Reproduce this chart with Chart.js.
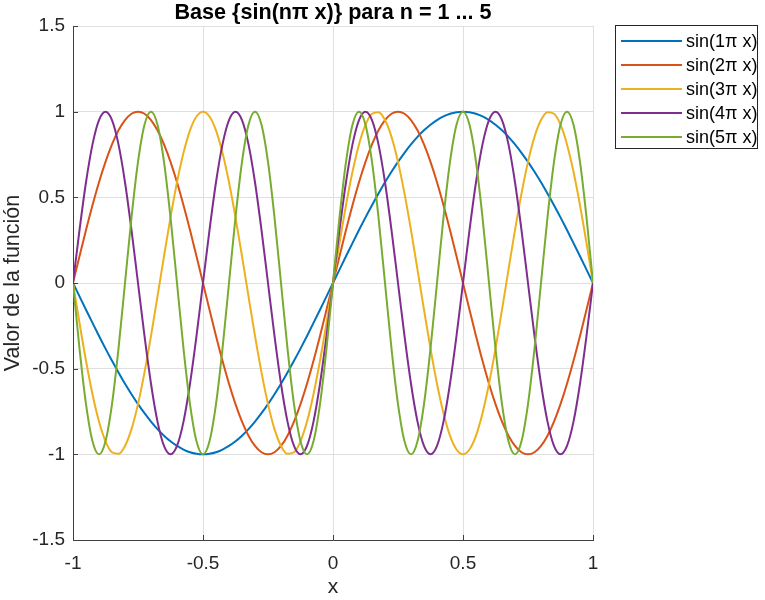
<!DOCTYPE html>
<html>
<head>
<meta charset="utf-8">
<script src="https://cdn.jsdelivr.net/npm/chart.js@4.4.1/dist/chart.umd.min.js"></script>
<style>
  html, body { margin: 0; padding: 0; background: #ffffff; }
  #c { display: block; }
</style>
</head>
<body>
<canvas id="c" width="765" height="600" style="width:765px;height:600px"></canvas>
<script>
const chartTitle = 'Base {sin(nπ x)} para n = 1 ... 5';
const xAxisTitle = 'x';
const yAxisTitle = 'Valor de la función';
const seriesLabels = ['sin(1π x)', 'sin(2π x)', 'sin(3π x)', 'sin(4π x)', 'sin(5π x)'];
const seriesColors = ['#0072BD', '#D95319', '#EDB120', '#7E2F8E', '#77AC30'];

const xs = [-1,-0.975,-0.95,-0.925,-0.9,-0.875,-0.85,-0.825,-0.8,-0.775,-0.75,-0.725,-0.7,-0.675,-0.65,-0.625,-0.6,-0.575,-0.55,-0.525,
  -0.5,-0.475,-0.45,-0.425,-0.4,-0.375,-0.35,-0.325,-0.3,-0.275,-0.25,-0.225,-0.2,-0.175,-0.15,-0.125,-0.1,-0.075,-0.05,-0.025,
  0,0.025,0.05,0.075,0.1,0.125,0.15,0.175,0.2,0.225,0.25,0.275,0.3,0.325,0.35,0.375,0.4,0.425,0.45,0.475,
  0.5,0.525,0.55,0.575,0.6,0.625,0.65,0.675,0.7,0.725,0.75,0.775,0.8,0.825,0.85,0.875,0.9,0.925,0.95,0.975,1];

const y1 = [0,-0.078,-0.156,-0.233,-0.309,-0.383,-0.454,-0.522,-0.588,-0.649,-0.707,-0.76,-0.809,-0.853,-0.891,-0.924,-0.951,-0.972,-0.988,-0.997,
  -1,-0.997,-0.988,-0.972,-0.951,-0.924,-0.891,-0.853,-0.809,-0.76,-0.707,-0.649,-0.588,-0.522,-0.454,-0.383,-0.309,-0.233,-0.156,-0.078,
  0,0.078,0.156,0.233,0.309,0.383,0.454,0.522,0.588,0.649,0.707,0.76,0.809,0.853,0.891,0.924,0.951,0.972,0.988,0.997,
  1,0.997,0.988,0.972,0.951,0.924,0.891,0.853,0.809,0.76,0.707,0.649,0.588,0.522,0.454,0.383,0.309,0.233,0.156,0.078,0];

const y2 = [0,0.156,0.309,0.454,0.588,0.707,0.809,0.891,0.951,0.988,1,0.988,0.951,0.891,0.809,0.707,0.588,0.454,0.309,0.156,
  0,-0.156,-0.309,-0.454,-0.588,-0.707,-0.809,-0.891,-0.951,-0.988,-1,-0.988,-0.951,-0.891,-0.809,-0.707,-0.588,-0.454,-0.309,-0.156,
  0,0.156,0.309,0.454,0.588,0.707,0.809,0.891,0.951,0.988,1,0.988,0.951,0.891,0.809,0.707,0.588,0.454,0.309,0.156,
  0,-0.156,-0.309,-0.454,-0.588,-0.707,-0.809,-0.891,-0.951,-0.988,-1,-0.988,-0.951,-0.891,-0.809,-0.707,-0.588,-0.454,-0.309,-0.156,0];

const y3 = [0,-0.233,-0.454,-0.649,-0.809,-0.924,-0.988,-0.997,-0.951,-0.853,-0.707,-0.522,-0.309,-0.078,0.156,0.383,0.588,0.76,0.891,0.972,
  1,0.972,0.891,0.76,0.588,0.383,0.156,-0.078,-0.309,-0.522,-0.707,-0.853,-0.951,-0.997,-0.988,-0.924,-0.809,-0.649,-0.454,-0.233,
  0,0.233,0.454,0.649,0.809,0.924,0.988,0.997,0.951,0.853,0.707,0.522,0.309,0.078,-0.156,-0.383,-0.588,-0.76,-0.891,-0.972,
  -1,-0.972,-0.891,-0.76,-0.588,-0.383,-0.156,0.078,0.309,0.522,0.707,0.853,0.951,0.997,0.988,0.924,0.809,0.649,0.454,0.233,0];

const y4 = [0,0.309,0.588,0.809,0.951,1,0.951,0.809,0.588,0.309,0,-0.309,-0.588,-0.809,-0.951,-1,-0.951,-0.809,-0.588,-0.309,
  0,0.309,0.588,0.809,0.951,1,0.951,0.809,0.588,0.309,0,-0.309,-0.588,-0.809,-0.951,-1,-0.951,-0.809,-0.588,-0.309,
  0,0.309,0.588,0.809,0.951,1,0.951,0.809,0.588,0.309,0,-0.309,-0.588,-0.809,-0.951,-1,-0.951,-0.809,-0.588,-0.309,
  0,0.309,0.588,0.809,0.951,1,0.951,0.809,0.588,0.309,0,-0.309,-0.588,-0.809,-0.951,-1,-0.951,-0.809,-0.588,-0.309,0];

const y5 = [0,-0.383,-0.707,-0.924,-1,-0.924,-0.707,-0.383,0,0.383,0.707,0.924,1,0.924,0.707,0.383,
  0,-0.383,-0.707,-0.924,-1,-0.924,-0.707,-0.383,0,0.383,0.707,0.924,1,0.924,0.707,0.383,
  0,-0.383,-0.707,-0.924,-1,-0.924,-0.707,-0.383,0,0.383,0.707,0.924,1,0.924,0.707,0.383,
  0,-0.383,-0.707,-0.924,-1,-0.924,-0.707,-0.383,0,0.383,0.707,0.924,1,0.924,0.707,0.383,
  0,-0.383,-0.707,-0.924,-1,-0.924,-0.707,-0.383,0,0.383,0.707,0.924,1,0.924,0.707,0.383,0];

const allSeries = [y1, y2, y3, y4, y5];
const xMin = -1, xMax = 1, xStep = 0.5;
const yMin = -1.5, yMax = 1.5, yStep = 0.5;

const FONT = '"Liberation Sans", Arial, Helvetica, sans-serif';
const AXIS_COLOR = '#404040';

const datasets = allSeries.map((ys, i) => ({
  label: seriesLabels[i],
  data: xs.map((x, k) => ({ x: x, y: ys[k] })),
  borderColor: seriesColors[i],
  backgroundColor: seriesColors[i],
  borderWidth: 2,
  pointRadius: 0,
  fill: false,
  cubicInterpolationMode: 'monotone',
  order: allSeries.length - i
}));

const fmt = v => String(Math.round(v * 10) / 10);

const decorPlugin = {
  id: 'decor',
  afterDraw(chart) {
    const ctx = chart.ctx;
    const ca = chart.chartArea;
    const xs_ = chart.scales.x, ys_ = chart.scales.y;
    ctx.save();
    // inward tick marks
    ctx.strokeStyle = AXIS_COLOR;
    ctx.lineWidth = 1;
    ctx.beginPath();
    xs_.ticks.forEach(t => {
      const px = Math.round(xs_.getPixelForValue(t.value)) + 0.5;
      ctx.moveTo(px, ca.bottom);
      ctx.lineTo(px, ca.bottom - 5);
    });
    ys_.ticks.forEach(t => {
      const py = Math.round(ys_.getPixelForValue(t.value)) + 0.5;
      ctx.moveTo(ca.left, py);
      ctx.lineTo(ca.left + 5, py);
    });
    ctx.stroke();

    // title
    ctx.fillStyle = '#000000';
    ctx.font = 'bold 21.6px ' + FONT;
    ctx.textAlign = 'center';
    ctx.textBaseline = 'alphabetic';
    ctx.fillText(chartTitle, (ca.left + ca.right) / 2, 19);

    // legend box
    const bx = 615.5, by = 25.5, bw = 142, bh = 123;
    ctx.fillStyle = '#ffffff';
    ctx.fillRect(bx, by, bw, bh);
    ctx.strokeStyle = '#262626';
    ctx.lineWidth = 1;
    ctx.strokeRect(bx, by, bw, bh);
    ctx.font = '18px ' + FONT;
    ctx.textAlign = 'left';
    ctx.textBaseline = 'middle';
    chart.data.datasets.forEach((ds, i) => {
      const ry = 41 + i * 24;
      ctx.strokeStyle = ds.borderColor;
      ctx.lineWidth = 2;
      ctx.beginPath();
      ctx.moveTo(621, ry);
      ctx.lineTo(682, ry);
      ctx.stroke();
      ctx.fillStyle = '#000000';
      ctx.fillText(ds.label, 686, ry + 1);
    });
    ctx.restore();
  }
};

new Chart(document.getElementById('c'), {
  type: 'line',
  data: { datasets: datasets },
  plugins: [decorPlugin],
  options: {
    responsive: false,
    animation: false,
    devicePixelRatio: 1,
    layout: { padding: { top: 26, right: 172, left: 0, bottom: 0 } },
    plugins: { legend: { display: false }, title: { display: false }, tooltip: { enabled: false } },
    scales: {
      x: {
        type: 'linear',
        min: xMin, max: xMax,
        afterFit: s => { s.height = 60; },
        ticks: { stepSize: xStep, color: '#262626', font: { family: FONT, size: 19 }, padding: 12, maxRotation: 0, callback: fmt },
        grid: { color: '#dfdfdf', drawTicks: false, lineWidth: 1 },
        border: { display: true, color: AXIS_COLOR, width: 1 },
        title: { display: true, text: xAxisTitle, color: '#262626', font: { family: FONT, size: 21 }, padding: { top: 0, bottom: 0 } }
      },
      y: {
        type: 'linear',
        min: yMin, max: yMax,
        afterFit: s => { s.width = 73; },
        ticks: { stepSize: yStep, color: '#262626', font: { family: FONT, size: 19 }, padding: 8, callback: fmt },
        grid: { color: '#dfdfdf', drawTicks: false, lineWidth: 1 },
        border: { display: true, color: AXIS_COLOR, width: 1 },
        title: { display: true, text: yAxisTitle, color: '#262626', font: { family: FONT, size: 21.5 }, padding: { top: 0, bottom: 0 } }
      }
    }
  }
});
</script>
</body>
</html>
